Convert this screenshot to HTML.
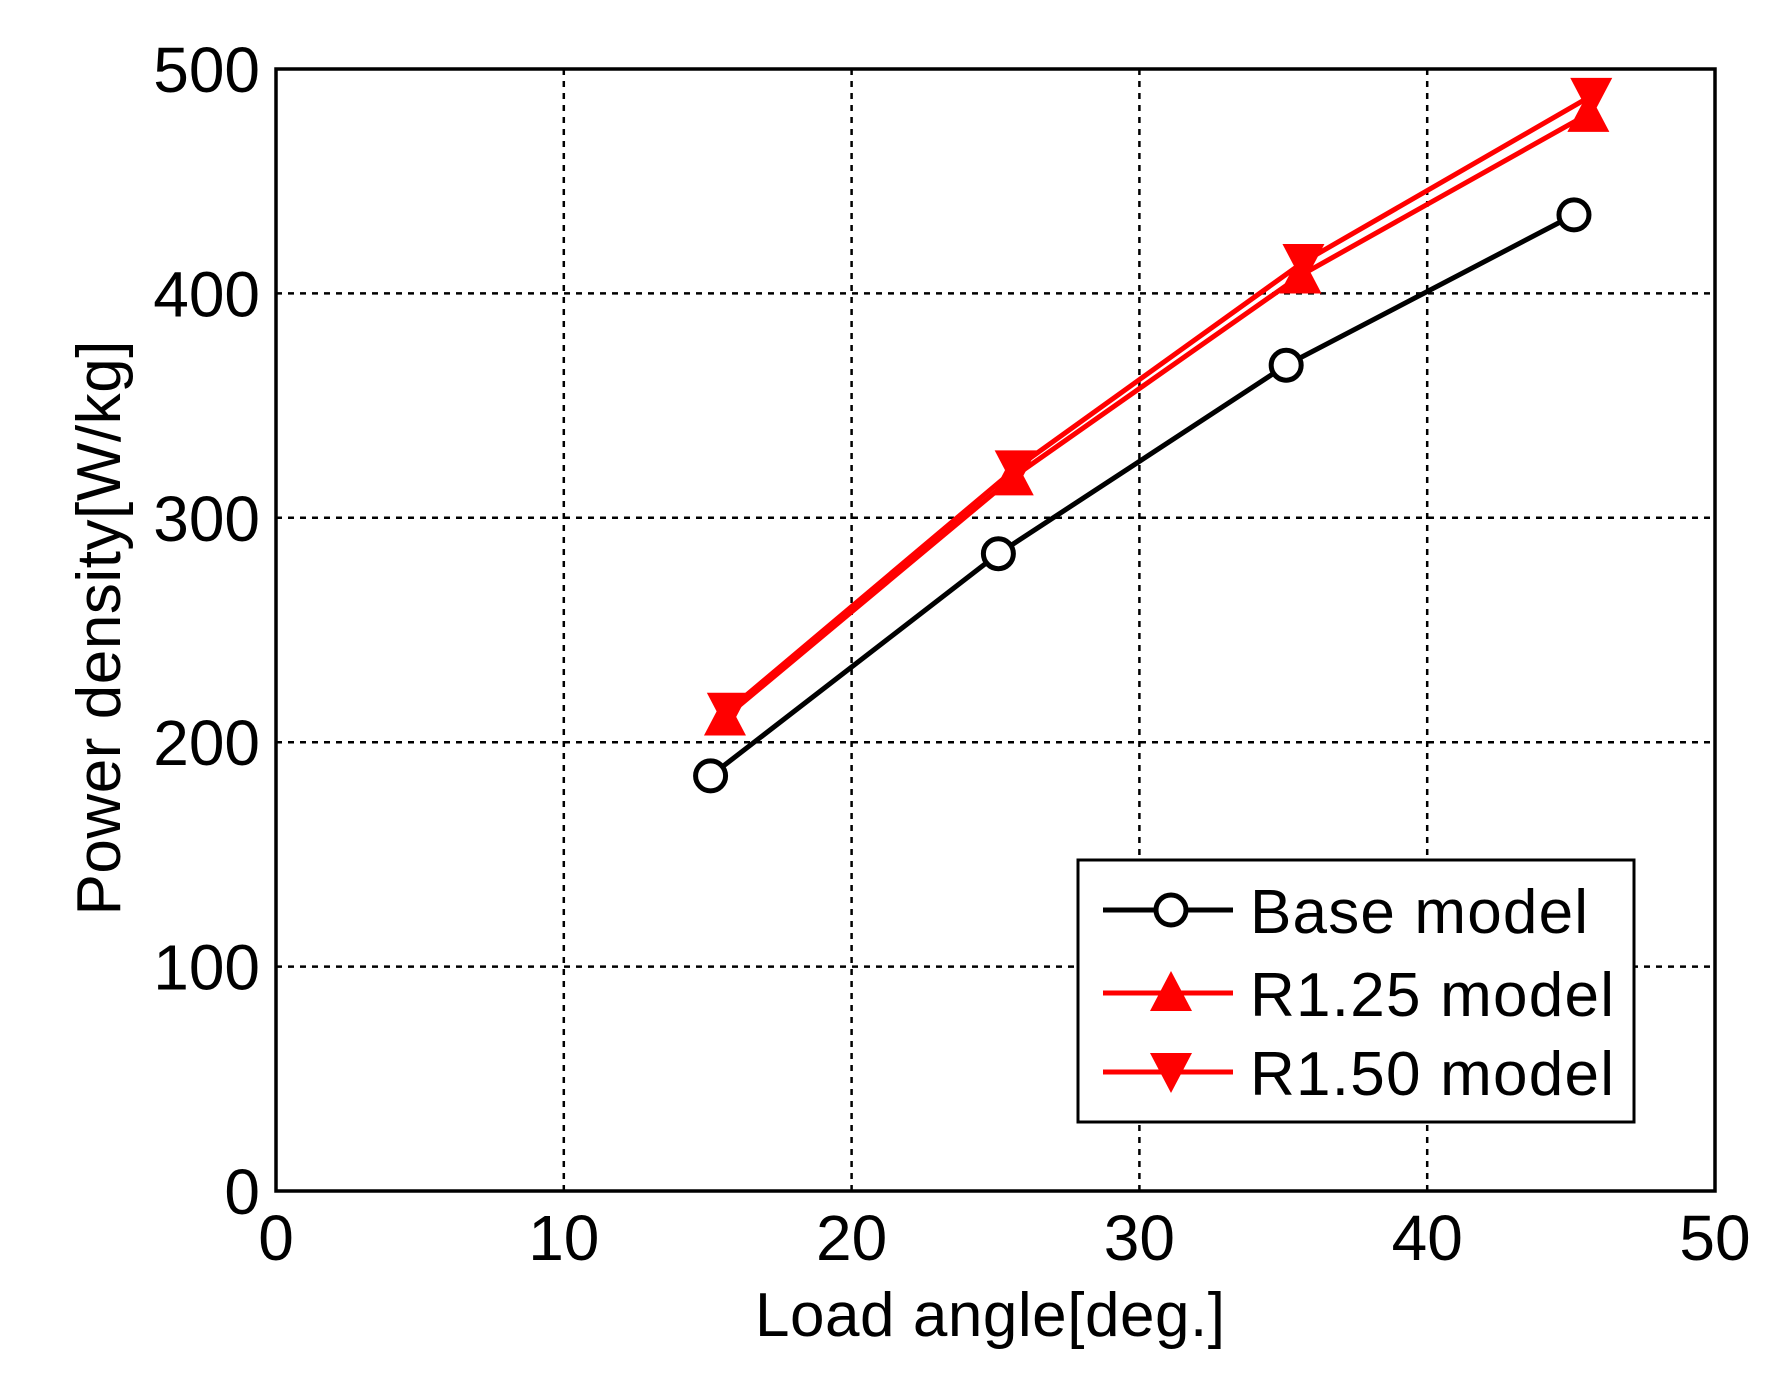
<!DOCTYPE html>
<html><head><meta charset="utf-8"><style>body{margin:0;background:#fff}svg{display:block}</style></head>
<body>
<svg id="chart" width="1773" height="1397" viewBox="0 0 1773 1397" xmlns="http://www.w3.org/2000/svg" font-family="'Liberation Sans', Arial, sans-serif">
<g id="grid"></g>
<g id="series"></g>
<rect x="276" y="69" width="1439" height="1122" fill="none" stroke="#000" stroke-width="3.5"/>
<g id="ticks" font-size="64" fill="#000"></g>
<text x="990" y="1336" font-size="62" text-anchor="middle" textLength="470">Load angle[deg.]</text>
<text transform="translate(120,628) rotate(-90)" font-size="62" text-anchor="middle" textLength="575">Power density[W/kg]</text>
<g>
<rect x="1078" y="860" width="556" height="262" fill="#fff" stroke="#000" stroke-width="3"/>
<g>
<line x1="1103" y1="910" x2="1233" y2="910" stroke="#000" stroke-width="5"/>
<circle cx="1171" cy="910" r="15" fill="#fff" stroke="#000" stroke-width="5"/>
<text x="1250" y="933" font-size="62" textLength="338">Base model</text></g>
<g>
<line x1="1103" y1="993" x2="1233" y2="993" stroke="#f00" stroke-width="5"/>
<polygon points="1171,971 1192,1011 1150,1011" fill="#f00"/>
<text x="1250" y="1016" font-size="62" textLength="364">R1.25 model</text></g>
<g>
<line x1="1103" y1="1072" x2="1233" y2="1072" stroke="#f00" stroke-width="5"/>
<polygon points="1150,1053 1192,1053 1171,1093" fill="#f00"/>
<text x="1250" y="1095" font-size="62" textLength="364">R1.50 model</text></g>
</g>
</svg>
<script>
const xTicks=[0,10,20,30,40,50];
const yTicks=[0,100,200,300,400,500];
const baseX=[15.1,25.1,35.1,45.1];
const baseY=[185,284,368,435];
const r125X=[15.6,25.6,35.6,45.6];
const r125Y=[211,318,408,480];
const r150X=[15.7,25.7,35.7,45.7];
const r150Y=[214,322,414,488];
const NS='http://www.w3.org/2000/svg';
const L=276,R=1715,T=69,B=1191;
const sx=v=>L+(v-0)/50*(R-L);
const sy=v=>B-(v-0)/500*(B-T);
function mk(tag,attrs,parent){const e=document.createElementNS(NS,tag);for(const k in attrs)e.setAttribute(k,attrs[k]);parent.appendChild(e);return e;}
const grid=document.getElementById('grid'),ticks=document.getElementById('ticks'),ser=document.getElementById('series');
xTicks.forEach(t=>{
  if(t>0&&t<50){const l=mk('line',{x1:sx(t),x2:sx(t),y1:T,y2:B,stroke:'#000','stroke-width':2.5,'stroke-dasharray':'6 6'},grid);
  
  }
  const tx=mk('text',{x:sx(t),y:1260,'text-anchor':'middle'},ticks);tx.textContent=t;
  
  
});
yTicks.forEach(t=>{
  if(t>0&&t<500){const l=mk('line',{x1:L,x2:R,y1:sy(t),y2:sy(t),stroke:'#000','stroke-width':2.5,'stroke-dasharray':'6 6'},grid);
  
  }
  const tx=mk('text',{x:260,y:sy(t)+23,'text-anchor':'end'},ticks);tx.textContent=t;
  
  
});
function series(xs,ys,color,marker,name){
  const g=mk('g',{},ser);
  
  
  const p=mk('polyline',{points:xs.map((x,i)=>sx(x)+','+sy(ys[i])).join(' '),fill:'none',stroke:color,'stroke-width':5},g);
  
  
  xs.forEach((x,i)=>{const cx=sx(x),cy=sy(ys[i]);let m;
    if(marker==='o')m=mk('circle',{cx:cx,cy:cy,r:15,fill:'#fff',stroke:color,'stroke-width':5},g);
    else if(marker==='up')m=mk('polygon',{points:`${cx},${cy-22} ${cx+21},${cy+18} ${cx-21},${cy+18}`,fill:color},g);
    else m=mk('polygon',{points:`${cx-21},${cy-18} ${cx+21},${cy-18} ${cx},${cy+22}`,fill:color},g);
    
    
  });
}
series(baseX,baseY,'#000','o','series-base-model');
series(r125X,r125Y,'#f00','up','series-r125-model');
series(r150X,r150Y,'#f00','down','series-r150-model');
</script>
</body></html>
